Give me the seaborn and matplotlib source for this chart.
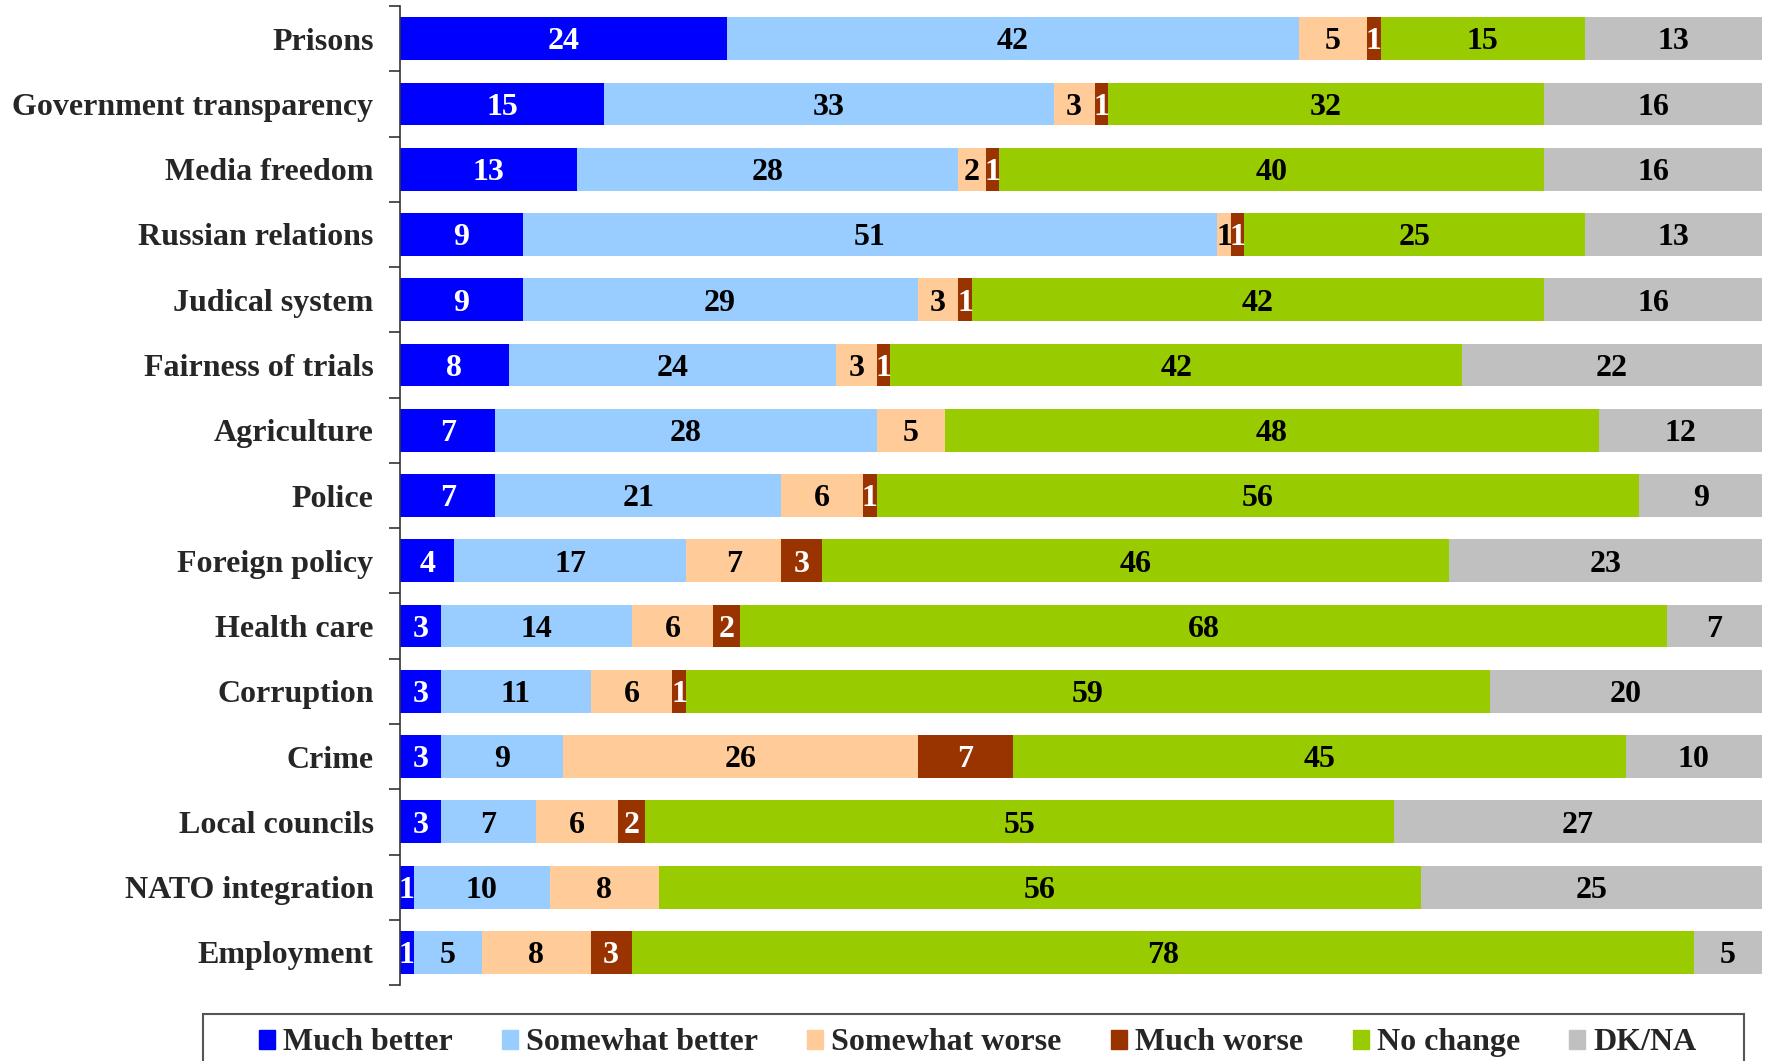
import numpy as np
import pandas as pd
import matplotlib
matplotlib.use("Agg")
import matplotlib.pyplot as plt
import seaborn as sns

categories = ["Prisons", "Government transparency", "Media freedom", "Russian relations",
              "Judical system", "Fairness of trials", "Agriculture", "Police",
              "Foreign policy", "Health care", "Corruption", "Crime",
              "Local councils", "NATO integration", "Employment"]

much_better = [24, 15, 13, 9, 9, 8, 7, 7, 4, 3, 3, 3, 3, 1, 1]
somewhat_better = [42, 33, 28, 51, 29, 24, 28, 21, 17, 14, 11, 9, 7, 10, 5]
somewhat_worse = [5, 3, 2, 1, 3, 3, 5, 6, 7, 6, 6, 26, 6, 8, 8]
much_worse = [1, 1, 1, 1, 1, 1, 0, 1, 3, 2, 1, 7, 2, 0, 3]
no_change = [15, 32, 40, 25, 42, 42, 48, 56, 46, 68, 59, 45, 55, 56, 78]
dk_na = [13, 16, 16, 13, 16, 22, 12, 9, 23, 7, 20, 10, 27, 25, 5]

series_names = ["Much better", "Somewhat better", "Somewhat worse", "Much worse", "No change", "DK/NA"]
series_values = [much_better, somewhat_better, somewhat_worse, much_worse, no_change, dk_na]
colors = ["#0000FF", "#99CCFF", "#FFCC99", "#993300", "#99CC00", "#C0C0C0"]
text_colors = ["white", "black", "black", "white", "black", "black"]

sns.set_theme(style="white")
plt.rcParams["font.family"] = ["Liberation Serif", "DejaVu Serif"]
plt.rcParams["font.weight"] = "bold"

df = pd.DataFrame(dict(zip(series_names, series_values)), index=categories)
cum = df.cumsum(axis=1)

fig = plt.figure(figsize=(17.66, 10.61), dpi=100)
ax = fig.add_axes([0.2265, 0.0716, 0.7712, 0.9227])

# stacked bars: draw cumulative totals, largest first
for name, col in reversed(list(zip(series_names, colors))):
    d = pd.DataFrame({"cat": categories, "val": cum[name].values})
    sns.barplot(data=d, x="val", y="cat", orient="h", color=col, width=0.655,
                saturation=1, linewidth=0, ax=ax, label=name)

fs = 23
for name, tc in zip(series_names, text_colors):
    for i, cat in enumerate(categories):
        v = df.loc[cat, name]
        if v == 0:
            continue
        ax.text(cum.loc[cat, name] - v / 2, i + 0.05, str(v), ha="center", va="center",
                fontsize=fs, fontweight="bold", color=tc)

ax.set_xlim(0, 100)
ax.set_ylim(len(categories) - 0.5, -0.5)
ax.set_xticks([])
ax.set_xlabel("")
ax.set_ylabel("")
ax.tick_params(axis="y", which="major", length=0, pad=19, labelsize=fs)
for lab in ax.get_yticklabels():
    lab.set_fontweight("bold")
ax.set_yticks(np.arange(-0.5, len(categories), 1), minor=True)
ax.tick_params(axis="y", which="minor", left=True, length=8, width=1.2, color="#333333")
for s in ["top", "right", "bottom"]:
    ax.spines[s].set_visible(False)
ax.spines["left"].set_color("#333333")
ax.spines["left"].set_linewidth(1.2)
if ax.get_legend() is not None:
    ax.get_legend().remove()

# legend frame (runs off the bottom edge like the original)
fig.patches.append(plt.Rectangle((0.115, -0.02), 0.8726, 0.0643, transform=fig.transFigure,
                                 facecolor="white", edgecolor="#555555", linewidth=1.5))
handles = [plt.Rectangle((0, 0), 1, 1, color=c) for c in colors]
leg = fig.legend(handles, series_names, loc="center", bbox_to_anchor=(0.5536, 0.017),
                 ncol=6, handlelength=0.5, handleheight=0.55, handletextpad=0.25,
                 columnspacing=1.55, frameon=False,
                 prop={"weight": "bold", "size": fs})

fig.savefig("out.png", dpi=100)
